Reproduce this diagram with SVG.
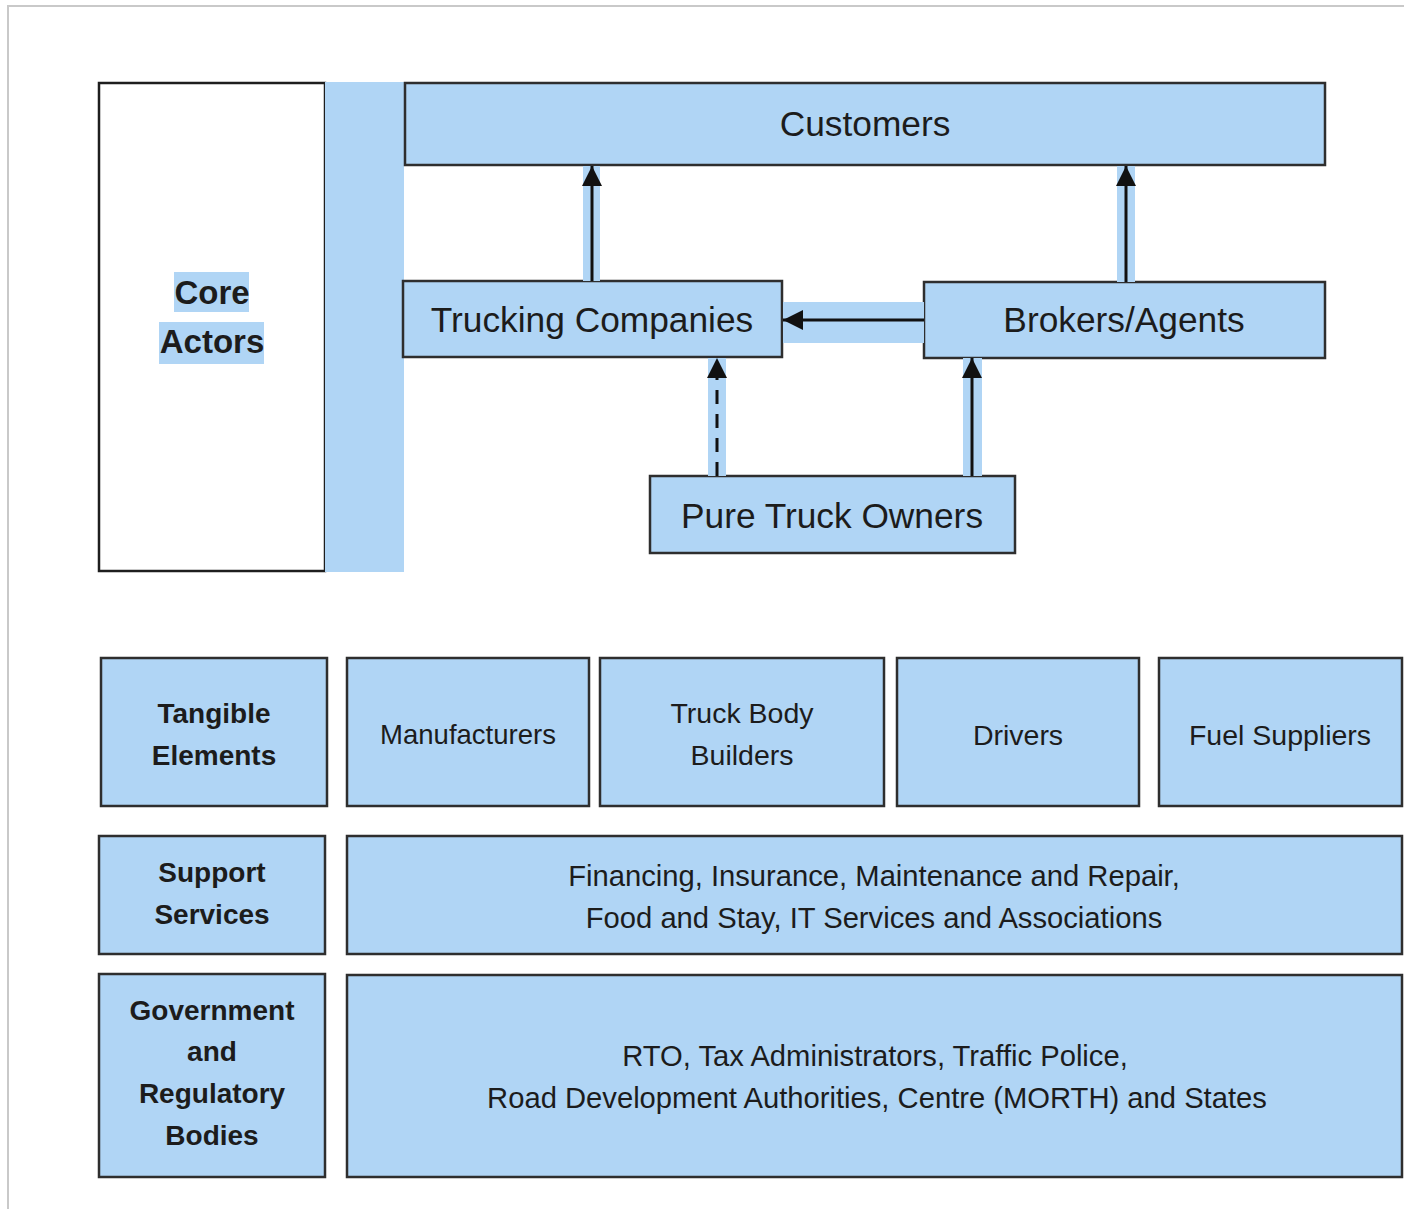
<svg xmlns="http://www.w3.org/2000/svg" width="1404" height="1209" viewBox="0 0 1404 1209">
<style>
.box{fill:#b0d5f5;stroke:#2e2e2e;stroke-width:2.5}
.white{fill:#ffffff;stroke:#1e1e1e;stroke-width:2.5}
.band{fill:#b0d5f5}
.t{font-family:"Liberation Sans",Arial,sans-serif;fill:#1c1c1c;text-anchor:middle}
.top{font-size:35.3px}
.b{font-size:28px;font-weight:bold}
.r{font-size:28.5px}
.long{font-size:29.2px}
.core{font-size:33px;font-weight:bold}
.ln{stroke:#111;stroke-width:3;fill:none}
</style>
<defs>
<marker id="ah" markerUnits="userSpaceOnUse" markerWidth="20" markerHeight="20" viewBox="0 0 18 18" refX="18" refY="9" orient="auto">
<path d="M0,0 L18,9 L0,18 Z" fill="#111"/>
</marker>
</defs>
<rect width="1404" height="1209" fill="#ffffff"/>
<path d="M8,1209 V6 H1404" fill="none" stroke="#c9c9c9" stroke-width="2"/>

<g id="core-actors">
<rect class="white" x="99" y="83" width="226" height="488"/>
<rect class="band" x="325" y="82" width="79" height="490"/>
<rect class="band" x="174" y="272" width="75" height="40"/>
<rect class="band" x="159" y="322" width="105" height="42"/>
<text class="t core" x="212" y="304">Core</text>
<text class="t core" x="212" y="353">Actors</text>
</g>

<g id="customers">
<rect class="box" x="405" y="83" width="920" height="82"/>
<text class="t top" x="865" y="136">Customers</text>
</g>
<g id="trucking-companies">
<rect class="box" x="403" y="281" width="379" height="76"/>
<text class="t top" x="592" y="332">Trucking Companies</text>
</g>
<g id="brokers-agents">
<rect class="box" x="924" y="282" width="401" height="76"/>
<text class="t top" x="1124" y="332">Brokers/Agents</text>
</g>
<g id="pure-truck-owners">
<rect class="box" x="650" y="476" width="365" height="77"/>
<text class="t top" x="832" y="528">Pure Truck Owners</text>
</g>

<g id="connectors">
<rect class="band" x="583" y="166" width="17" height="115"/>
<rect class="band" x="1117" y="166" width="18" height="116"/>
<rect class="band" x="783" y="302" width="141" height="41"/>
<rect class="band" x="708" y="358" width="18" height="118"/>
<rect class="band" x="963" y="358" width="19" height="118"/>
<line class="ln" x1="592" y1="281" x2="592" y2="166" marker-end="url(#ah)"/>
<line class="ln" x1="1126" y1="282" x2="1126" y2="166" marker-end="url(#ah)"/>
<line class="ln" x1="924" y1="320" x2="783" y2="320" marker-end="url(#ah)"/>
<line class="ln" x1="717" y1="476" x2="717" y2="358" stroke-dasharray="14 10" marker-end="url(#ah)"/>
<line class="ln" x1="972" y1="476" x2="972" y2="358" marker-end="url(#ah)"/>
</g>

<g id="tangible-elements">
<rect class="box" x="101" y="658" width="226" height="148"/>
<text class="t b" x="214" y="723">Tangible</text>
<text class="t b" x="214" y="765">Elements</text>
</g>
<g id="manufacturers">
<rect class="box" x="347" y="658" width="242" height="148"/>
<text class="t" x="468" y="744" font-size="27.5">Manufacturers</text>
</g>
<g id="truck-body-builders">
<rect class="box" x="600" y="658" width="284" height="148"/>
<text class="t r" x="742" y="723">Truck Body</text>
<text class="t r" x="742" y="765">Builders</text>
</g>
<g id="drivers">
<rect class="box" x="897" y="658" width="242" height="148"/>
<text class="t r" x="1018" y="745">Drivers</text>
</g>
<g id="fuel-suppliers">
<rect class="box" x="1159" y="658" width="243" height="148"/>
<text class="t r" x="1280" y="745">Fuel Suppliers</text>
</g>

<g id="support-services">
<rect class="box" x="99" y="836" width="226" height="118"/>
<text class="t b" x="212" y="882">Support</text>
<text class="t b" x="212" y="924">Services</text>
</g>
<g id="support-list">
<rect class="box" x="347" y="836" width="1055" height="118"/>
<text class="t long" x="874" y="886">Financing, Insurance, Maintenance and Repair,</text>
<text class="t long" x="874" y="928">Food and Stay, IT Services and Associations</text>
</g>

<g id="government-bodies">
<rect class="box" x="99" y="974" width="226" height="203"/>
<text class="t b" x="212" y="1020">Government</text>
<text class="t b" x="212" y="1061">and</text>
<text class="t b" x="212" y="1103">Regulatory</text>
<text class="t b" x="212" y="1145">Bodies</text>
</g>
<g id="government-list">
<rect class="box" x="347" y="975" width="1055" height="202"/>
<text class="t long" x="875" y="1066">RTO, Tax Administrators, Traffic Police,</text>
<text class="t long" x="877" y="1108">Road Development Authorities, Centre (MORTH) and States</text>
</g>
</svg>
